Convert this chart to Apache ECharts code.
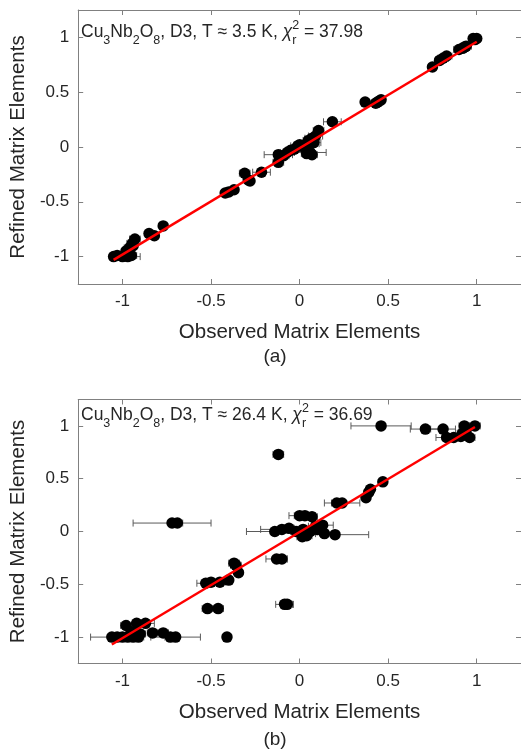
<!DOCTYPE html>
<html>
<head>
<meta charset="utf-8">
<script src="https://cdn.jsdelivr.net/npm/echarts@6/dist/echarts.min.js"></script>
<style>
  html, body { margin: 0; padding: 0; background: #fff; }
  #chart { width: 521px; height: 749px; }
</style>
</head>
<body>
<div id="chart"></div>
<script>
// Panel (a): T ≈ 3.5 K — observed value, refined value, horizontal error (half-width)
const obsA = [1.0, 0.99, 0.98, 0.94, 0.92, 0.90, 0.93, 0.83, 0.81, 0.79, 0.75,
  0.45, 0.44, 0.46, 0.43, 0.37, 0.185, 0.107, 0.09, 0.07, 0.05, 0.06, 0.03, 0.08,
  0.02, -0.01, -0.03, 0.06, 0.07, 0.04, -0.05, -0.07, -0.12, -0.12, -0.09, 0.0,
  -0.215, -0.31, -0.28, -0.29, -0.42, -0.40, -0.37, -0.77, -0.85, -0.82, -0.93,
  -0.945, -0.96, -0.94, -1.05, -1.03, -1.0, -0.97, -0.95, -0.98];
const refA = [0.99, 0.98, 0.99, 0.92, 0.90, 0.89, 0.91, 0.83, 0.81, 0.79, 0.73,
  0.42, 0.41, 0.43, 0.40, 0.41, 0.23, 0.15, 0.10, 0.08, 0.06, 0.03, 0.02, 0.04,
  0.00, 0.01, -0.02, -0.05, -0.07, -0.06, -0.03, -0.05, -0.07, -0.14, -0.08, 0.02,
  -0.23, -0.24, -0.31, -0.30, -0.42, -0.41, -0.39, -0.72, -0.79, -0.81, -0.84,
  -0.88, -0.92, -0.90, -1.0, -0.99, -1.0, -1.0, -0.99, -0.95];
const errA = [0.02, 0.02, 0.02, 0.03, 0.03, 0.03, 0.02, 0.03, 0.03, 0.02, 0.02,
  0.02, 0.02, 0.02, 0.02, 0.02, 0.05, 0.03, 0.04, 0.04, 0.03, 0.05, 0.04, 0.04,
  0.03, 0.04, 0.03, 0.09, 0.03, 0.03, 0.03, 0.04, 0.08, 0.03, 0.03, 0.03,
  0.05, 0.03, 0.02, 0.02, 0.02, 0.02, 0.02, 0.02, 0.02, 0.02, 0.03,
  0.03, 0.03, 0.02, 0.02, 0.02, 0.02, 0.07, 0.03, 0.02];
const fitAX = [-1.05, 1.0];
const fitAY = [-1.03, 0.96];

// Panel (b): T ≈ 26.4 K
const obsB = [0.46, 0.71, 0.81, 0.93, 0.99, 0.94, 0.83, 0.87, 0.91, 0.96, 0.92,
  -0.12, 0.47, 0.40, 0.375, 0.39, 0.24, 0.21, 0.00, 0.03, -0.72, -0.69,
  -0.14, -0.10, -0.06, -0.02, 0.015, 0.04, 0.06, 0.09, 0.13, 0.14, 0.20, 0.10, 0.02, 0.07,
  -0.13, -0.10, -0.085, -0.07, -0.52, -0.46, -0.41, -0.36, -0.37, -0.345, -0.40,
  -0.45, -0.53, -0.50, -0.83, -0.77, -0.73, -0.70, -1.06, -1.03, -1.0, -0.97,
  -0.94, -0.91, -0.98, -0.92, -0.87, -0.95, -0.90];
const refB = [1.0, 0.97, 0.97, 1.0, 1.0, 0.97, 0.89, 0.89, 0.90, 0.89, 0.93,
  0.73, 0.47, 0.40, 0.32, 0.37, 0.27, 0.27, 0.15, 0.15, 0.08, 0.08,
  0.0, 0.02, 0.03, 0.0, -0.05, -0.04, 0.0, 0.05, 0.06, -0.02, -0.03, 0.02, 0.02, 0.14,
  -0.26, -0.26, -0.69, -0.69, -0.73, -0.73, -1.0, -0.32, -0.30, -0.39, -0.46,
  -0.48, -0.49, -0.48, -0.96, -0.96, -1.0, -1.0, -1.0, -1.0, -1.0, -1.0,
  -1.0, -1.0, -0.89, -0.87, -0.87, -0.95, -0.97];
const errB = [0.17, 0.085, 0.07, 0.03, 0.03, 0.03, 0.06, 0.03, 0.03, 0.03, 0.03,
  0.03, 0.02, 0.02, 0.02, 0.02, 0.10, 0.03, 0.06, 0.06, 0.22, 0.03,
  0.16, 0.12, 0.03, 0.03, 0.03, 0.03, 0.03, 0.04, 0.06, 0.05, 0.19, 0.03, 0.03, 0.03,
  0.06, 0.03, 0.05, 0.03, 0.03, 0.03, 0.02, 0.03, 0.03, 0.02, 0.02,
  0.03, 0.05, 0.02, 0.03, 0.03, 0.03, 0.14, 0.12, 0.03, 0.03, 0.03,
  0.03, 0.03, 0.03, 0.05, 0.05, 0.03, 0.03];
const fitBX = [-1.06, 0.99];
const fitBY = [-1.07, 0.99];

const tickValues = [-1, -0.5, 0, 0.5, 1];
const xTitle = 'Observed Matrix Elements';
const yTitle = 'Refined Matrix Elements';
const panelTags = ['(a)', '(b)'];
const temps = ['3.5', '26.4'];
const chis = ['37.98', '36.69'];

const FONT = '"Liberation Sans", Arial, Helvetica, sans-serif';
const TXT = '#262626';
const BOX = '#808080';

const chart = echarts.init(document.getElementById('chart'), null, { renderer: 'canvas' });

const grids = [
  { left: 72, top: 10, width: 451, height: 274 },
  { left: 72, top: 399.5, width: 451, height: 264 }
];

function xAxes(gi) {
  const base = {
    type: 'value', gridIndex: gi, min: -1.25, max: 1.25,
    axisLine: { show: true, onZero: false, lineStyle: { color: BOX, width: 1 } },
    axisTick: { show: true, inside: true, length: 5, customValues: tickValues, lineStyle: { color: BOX } },
    splitLine: { show: false }
  };
  return [
    Object.assign({}, base, {
      position: 'bottom',
      axisLabel: { customValues: tickValues, color: TXT, fontSize: 17, fontFamily: FONT, margin: 9 },
      name: xTitle, nameLocation: 'middle', nameGap: 38,
      nameTextStyle: { color: TXT, fontSize: 20.5, fontFamily: FONT }
    }),
    Object.assign({}, base, { position: 'top', axisLabel: { show: false } })
  ];
}
function yAxes(gi) {
  const base = {
    type: 'value', gridIndex: gi, min: -1.25, max: 1.25,
    axisLine: { show: true, onZero: false, lineStyle: { color: BOX, width: 1 } },
    axisTick: { show: true, inside: true, length: 5, customValues: tickValues, lineStyle: { color: BOX } },
    splitLine: { show: false }
  };
  return [
    Object.assign({}, base, {
      position: 'left',
      axisLabel: { customValues: tickValues, color: TXT, fontSize: 17, fontFamily: FONT, margin: 9 },
      name: yTitle, nameLocation: 'middle', nameGap: 44, nameRotate: 90,
      nameTextStyle: { color: TXT, fontSize: 20.5, fontFamily: FONT }
    }),
    Object.assign({}, base, { position: 'right', axisLabel: { show: false } })
  ];
}

function zip(xs, ys, es) {
  return xs.map((x, i) => es ? [x, ys[i], es[i]] : [x, ys[i]]);
}

// Horizontal error bars with end caps, drawn beneath the markers
function errorBars(xi, yi, data) {
  return {
    type: 'custom', xAxisIndex: xi, yAxisIndex: yi, z: 2, silent: true,
    data: data,
    renderItem: function (params, api) {
      const x = api.value(0), y = api.value(1), e = api.value(2);
      const p0 = api.coord([x - e, y]);
      const p1 = api.coord([x + e, y]);
      const cap = 3.5;
      const st = { stroke: '#5a5a5a', lineWidth: 1 };
      return {
        type: 'group',
        children: [
          { type: 'line', shape: { x1: p0[0], y1: p0[1], x2: p1[0], y2: p1[1] }, style: st },
          { type: 'line', shape: { x1: p0[0], y1: p0[1] - cap, x2: p0[0], y2: p0[1] + cap }, style: st },
          { type: 'line', shape: { x1: p1[0], y1: p1[1] - cap, x2: p1[0], y2: p1[1] + cap }, style: st }
        ]
      };
    }
  };
}

function points(xi, yi, data) {
  return {
    type: 'scatter', xAxisIndex: xi, yAxisIndex: yi, z: 3,
    symbol: 'circle', symbolSize: 11.5,
    itemStyle: { color: '#000', opacity: 1 },
    data: data, silent: true
  };
}

function fitLine(xi, yi, xs, ys) {
  return {
    type: 'line', xAxisIndex: xi, yAxisIndex: yi, z: 5,
    data: zip(xs, ys), showSymbol: false, symbol: 'none',
    lineStyle: { color: '#ff0000', width: 2.5 }, silent: true
  };
}

// Annotation with sub/superscripts, laid out with measured glyph widths
const measureCtx = document.createElement('canvas').getContext('2d');
function textWidth(t, size, italic) {
  measureCtx.font = (italic ? 'italic ' : '') + size + 'px ' + FONT;
  return measureCtx.measureText(t).width;
}
function annotation(x0, baseline, temp, chi) {
  const MAIN = 17.5, SUB = 12.5;
  const parts = [
    ['Cu', MAIN, 0], ['3', SUB, 6], ['Nb', MAIN, 0], ['2', SUB, 6], ['O', MAIN, 0], ['8', SUB, 6],
    [', D3, T \u2248 ' + temp + ' K, ', MAIN, 0], ['\u03c7', MAIN, 0, true],
    ['r', SUB, 6, false, '2'], [' = ' + chi, MAIN, 0]
  ];
  const els = [];
  let x = x0;
  parts.forEach(p => {
    const [t, size, dy, italic, sup] = p;
    const w = textWidth(t, size, italic);
    els.push({
      type: 'text', z: 10, silent: true,
      style: {
        text: t, x: x, y: baseline + dy, fill: TXT,
        font: (italic ? 'italic ' : '') + size + 'px ' + FONT,
        align: 'left', verticalAlign: 'bottom'
      }
    });
    let adv = w;
    if (sup) {
      const ws = textWidth(sup, size);
      els.push({
        type: 'text', z: 10, silent: true,
        style: {
          text: sup, x: x, y: baseline - 9, fill: TXT,
          font: size + 'px ' + FONT, align: 'left', verticalAlign: 'bottom'
        }
      });
      adv = Math.max(w, ws);
    }
    x += adv;
  });
  return els;
}

const graphics = []
  .concat(annotation(81, 41, temps[0], chis[0]))
  .concat(annotation(81, 424, temps[1], chis[1]))
  .concat([
    { type: 'text', silent: true, style: { text: panelTags[0], x: 275, y: 357, font: '19px ' + FONT, fill: TXT, align: 'center', verticalAlign: 'middle' } },
    { type: 'text', silent: true, style: { text: panelTags[1], x: 275, y: 740, font: '19px ' + FONT, fill: TXT, align: 'center', verticalAlign: 'middle' } }
  ]);

chart.setOption({
  animation: false,
  backgroundColor: '#fff',
  grid: grids,
  xAxis: xAxes(0).concat(xAxes(1)),
  yAxis: yAxes(0).concat(yAxes(1)),
  series: [
    errorBars(0, 0, zip(obsA, refA, errA)),
    points(0, 0, zip(obsA, refA)),
    fitLine(0, 0, fitAX, fitAY),
    errorBars(2, 2, zip(obsB, refB, errB)),
    points(2, 2, zip(obsB, refB)),
    fitLine(2, 2, fitBX, fitBY)
  ],
  graphic: graphics
});
</script>
</body>
</html>
